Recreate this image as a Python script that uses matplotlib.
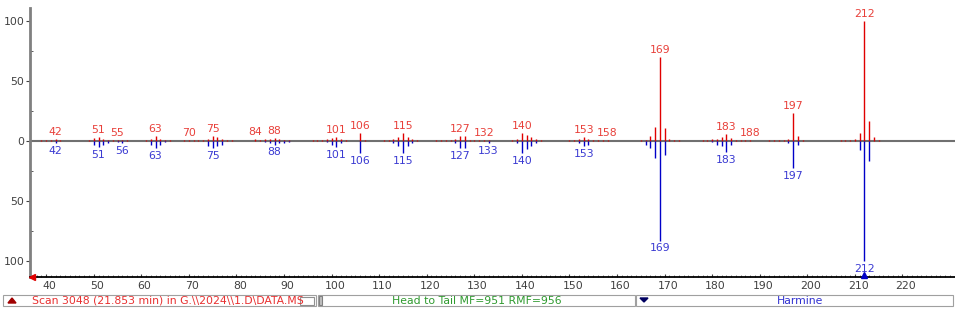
import matplotlib
matplotlib.use("Agg")
import matplotlib.pyplot as plt
import matplotlib.transforms as mtransforms
from matplotlib.patches import Rectangle, Polygon
from matplotlib.ticker import MultipleLocator, FuncFormatter

# ---- data: sample spectrum (head, red) ----
head_mz = [39, 40, 41, 42, 43, 44, 49, 50, 51, 52, 53, 54, 55, 56, 57,
           60, 61, 62, 63, 64, 65, 66, 67, 68, 69, 70, 71, 72,
           73, 74, 75, 76, 77, 78, 79, 80,
           84, 85, 86, 87, 88, 89, 90, 91,
           96, 97, 98, 99, 100, 101, 102, 103, 106, 107,
           111, 112, 113, 114, 115, 116, 117, 118,
           122, 123, 124, 125, 126, 127, 128, 129, 130, 131, 132, 133,
           138, 139, 140, 141, 142, 143, 144,
           150, 151, 152, 153, 154, 155, 156, 157, 158,
           165, 166, 167, 168, 169, 170, 171, 172, 173,
           178, 179, 180, 181, 182, 183, 184, 185, 186, 187, 188,
           192, 193, 194, 195, 196, 197, 198, 199,
           207, 208, 209, 210, 211, 212, 213, 214, 215]
head_int = [0.5, 0.5, 0.8, 1.5, 0.5, 0.3, 0.5, 2.5, 3.0, 2.0, 1.0, 0.5, 1.0, 0.8, 0.5,
            0.3, 0.8, 2.0, 4.0, 2.0, 1.0, 0.5, 0.3, 0.3, 0.5, 1.0, 0.5, 0.5,
            0.5, 2.0, 4.5, 3.0, 2.0, 1.0, 0.5, 0.3,
            1.5, 1.0, 1.5, 2.0, 2.5, 1.5, 1.0, 0.5,
            0.5, 0.5, 1.0, 1.5, 2.5, 3.5, 2.0, 0.5, 6.5, 0.5,
            0.5, 1.0, 2.0, 3.0, 7.0, 3.0, 2.0, 0.5,
            0.5, 0.5, 0.8, 1.0, 2.0, 4.0, 4.0, 1.0, 0.5, 0.5, 1.0, 0.5,
            1.0, 1.5, 6.5, 5.0, 3.0, 1.5, 0.5,
            0.5, 1.0, 2.0, 3.0, 2.0, 1.0, 0.5, 0.5, 0.8,
            0.5, 1.0, 4.0, 12.0, 70.0, 11.0, 2.0, 0.5, 0.5,
            0.5, 1.0, 1.5, 2.0, 3.0, 6.0, 2.5, 1.0, 0.5, 0.5, 1.0,
            0.5, 0.5, 0.8, 1.0, 1.5, 23.0, 4.0, 1.0,
            0.5, 0.5, 1.0, 1.5, 7.0, 100.0, 17.0, 3.0, 0.5]
head_labels = [42, 51, 55, 63, 70, 75, 84, 88, 101, 106, 115, 127, 132, 140,
               153, 158, 169, 183, 188, 197, 212]

# ---- data: library spectrum (tail, blue) ----
tail_mz = [42, 50, 51, 52, 53, 55, 56, 62, 63, 64, 65, 74, 75, 76, 77,
           86, 87, 88, 89, 90, 91, 99, 100, 101, 102, 106,
           113, 114, 115, 116, 117, 126, 127, 128, 133,
           139, 140, 141, 142, 143, 152, 153, 154,
           166, 167, 168, 169, 170, 180, 181, 182, 183, 184,
           196, 197, 198, 211, 212, 213]
tail_int = [1.5, 3.0, 5.0, 3.0, 2.0, 1.0, 1.5, 3.0, 6.0, 3.0, 1.0, 4.0, 6.0, 4.0, 3.0,
            1.0, 2.0, 3.0, 2.0, 2.0, 1.0, 1.0, 3.0, 5.0, 2.0, 10.0,
            2.0, 4.0, 10.0, 4.0, 2.0, 2.0, 6.0, 6.0, 2.0,
            2.0, 10.0, 7.0, 4.0, 2.0, 2.0, 4.0, 3.0,
            3.0, 6.0, 14.0, 83.0, 12.0, 1.0, 3.0, 4.0, 9.0, 3.0,
            2.0, 22.5, 3.0, 7.5, 100.0, 16.5]
tail_labels = [42, 51, 56, 63, 75, 88, 101, 106, 115, 127, 133, 140, 153,
               169, 183, 197, 212]

xticks = list(range(40, 221, 10))
yticks = [-100, -50, 0, 50, 100]

status_left = "Scan 3048 (21.853 min) in G.\\\\2024\\\\1.D\\DATA.MS"
status_mid = "Head to Tail MF=951 RMF=956"
status_right = "Harmine"

RED = "#e00000"
BLUE = "#0000c8"
RED_T = "#e8403a"
BLUE_T = "#3a3ad2"

W, H = 955, 309
fig = plt.figure(figsize=(W / 100, H / 100), dpi=100)
ax = fig.add_axes([30 / W, 1 - 277 / H, (W - 30) / W, (277 - 8) / H])
ax.set_xlim(36.6, 231.05)
ax.set_ylim(-113.3, 110.8)

ax.axhline(0, color="#707070", lw=1.5, zorder=1)
ax.vlines(head_mz, 0, head_int, color=RED, lw=1.0, zorder=2)
ax.vlines(tail_mz, 0, [-v for v in tail_int], color=BLUE, lw=1.0, zorder=2)

hmap = dict(zip(head_mz, head_int))
tmap = dict(zip(tail_mz, tail_int))
for m in head_labels:
    ax.annotate(str(m), (m, hmap[m]), xytext=(0, 1.5), textcoords="offset points",
                ha="center", va="bottom", color=RED_T, fontsize=7.8)
for m in tail_labels:
    ax.annotate(str(m), (m, -tmap[m]), xytext=(0, -2), textcoords="offset points",
                ha="center", va="top", color=BLUE_T, fontsize=7.8)

for s in ["top", "right"]:
    ax.spines[s].set_visible(False)
ax.spines["left"].set_color("#808080")
ax.spines["left"].set_linewidth(2)
ax.spines["bottom"].set_color("black")
ax.spines["bottom"].set_linewidth(1.3)

ax.set_xticks(xticks)
ax.xaxis.set_minor_locator(MultipleLocator(1))
ax.set_yticks(yticks)
ax.yaxis.set_minor_locator(MultipleLocator(25))
ax.yaxis.set_major_formatter(FuncFormatter(lambda v, p: f"{abs(int(v))}"))
ax.tick_params(axis="x", which="major", direction="in", length=2, color="#404040",
               labelsize=7.8, labelcolor="#404040", pad=3)
ax.tick_params(axis="x", which="minor", direction="in", length=1.2, color="#606060")
ax.tick_params(axis="y", which="major", direction="out", length=3, color="#404040",
               labelsize=7.8, labelcolor="#404040", pad=1)
ax.tick_params(axis="y", which="minor", direction="in", length=2, color="#404040")

# shift x tick labels slightly right, as in the reference
shift = mtransforms.ScaledTranslation(3.3 / 100, 0, fig.dpi_scale_trans)
for lab in ax.get_xticklabels():
    lab.set_transform(lab.get_transform() + shift)

# markers on the bottom axis
ax.plot([37.1], [-113.3], marker="<", color="#e00000", ms=5, clip_on=False, zorder=5)
ax.plot([212], [-111.5], marker="^", color="#0000c8", ms=5, clip_on=False, zorder=5)

# ---- status bar ----
def fx(px):
    return px / W

def fy(py):
    return 1 - py / H

def rect(x0, y0, x1, y1, ec="#a0a0a0", fc="none", lw=0.8):
    fig.add_artist(Rectangle((fx(x0), fy(y1)), fx(x1) - fx(x0), fy(y0) - fy(y1),
                             transform=fig.transFigure, ec=ec, fc=fc, lw=lw))

rect(3, 295, 316, 306)
rect(300, 296.5, 314, 304.5, ec="#909090")
rect(318, 295, 635, 306)
rect(319, 296, 322, 305, ec="#808080", fc="#c0c0c0")
rect(636, 295, 953, 306)
fig.add_artist(Polygon([[fx(8), fy(303)], [fx(16), fy(303)], [fx(12), fy(298)]],
                       closed=True, transform=fig.transFigure, color="#a00000"))
fig.add_artist(Polygon([[fx(640), fy(298)], [fx(648), fy(298)], [fx(644), fy(302)]],
                       closed=True, transform=fig.transFigure, color="#000060"))
fig.text(fx(32), fy(300.5), status_left, color="#e83030", fontsize=7.8, va="center", ha="left")
fig.text(fx(477), fy(300.5), status_mid, color="#2f9a2f", fontsize=7.8, va="center", ha="center")
fig.text(fx(800), fy(300.5), status_right, color="#3030d0", fontsize=7.8, va="center", ha="center")

fig.savefig("out.png", dpi=100)
